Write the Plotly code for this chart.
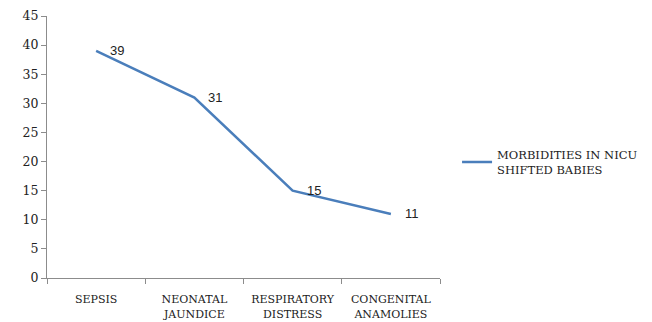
import plotly.graph_objects as go

categories = ["SEPSIS", "NEONATAL<br>JAUNDICE", "RESPIRATORY<br>DISTRESS", "CONGENITAL<br>ANAMOLIES"]
values = [39, 31, 15, 11]
series_name = "MORBIDITIES IN NICU<br>SHIFTED BABIES"
y_ticks = [0, 5, 10, 15, 20, 25, 30, 35, 40, 45]

line_color = "#4A7EBB"
axis_color = "#8C8C8C"
serif = '"DejaVu Serif", serif'
sans = '"Liberation Sans", Arial, sans-serif'

fig = go.Figure()
fig.add_trace(go.Scatter(
    x=categories,
    y=values,
    mode="lines",
    name=series_name,
    line=dict(color=line_color, width=2.5),
))

# value labels, placed to the right of each point
for cat, v in zip(categories, values):
    fig.add_annotation(
        x=cat, y=v, text=str(v), showarrow=False,
        xanchor="left", yanchor="middle", xshift=12,
        font=dict(family=sans, size=13, color="#222222"),
    )

fig.update_layout(
    width=652,
    height=322,
    margin=dict(l=47, r=212, t=16, b=44, autoexpand=False),
    paper_bgcolor="white",
    plot_bgcolor="white",
    showlegend=True,
    legend=dict(
        xref="container", yref="container",
        x=0.701, y=0.497, xanchor="left", yanchor="middle",
        font=dict(family=serif, size=11.5, color="#222222"),
        bgcolor="rgba(0,0,0,0)",
    ),
    xaxis=dict(
        type="category",
        showline=True, linecolor=axis_color, linewidth=1,
        ticks="outside", tickson="boundaries", ticklen=5, tickcolor=axis_color,
        showgrid=False,
        tickangle=0,
        automargin=False,
        tickfont=dict(family=serif, size=11, color="#222222"),
        ticklabelstandoff=11,
        range=[-0.5, 3.5],
    ),
    yaxis=dict(
        range=[0, 45],
        tickvals=y_ticks,
        showline=True, linecolor=axis_color, linewidth=1,
        ticks="outside", ticklen=5, tickcolor=axis_color,
        showgrid=False, zeroline=False,
        automargin=False,
        tickfont=dict(family=serif, size=12.5, color="#222222"),
    ),
)

fig.write_html("out.html")
